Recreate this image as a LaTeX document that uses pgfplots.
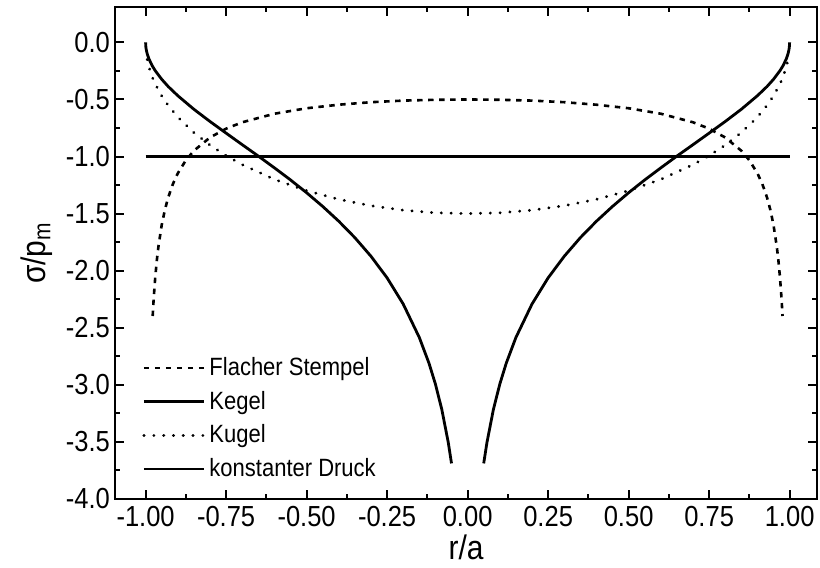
\documentclass[border=0pt]{standalone}
\usepackage{fontspec}
\setmainfont{Liberation Sans}[FakeStretch=0.88]
\usepackage{pgfplots}
\pgfplotsset{compat=1.18}
\begin{document}
\begin{tikzpicture}
\begin{axis}[
  scale only axis, width=351pt, height=246pt,
  xmin=-1.095, xmax=1.085, ymin=-4.0, ymax=0.31,
  xtick={-1,-0.75,-0.5,-0.25,0,0.25,0.5,0.75,1},
  ytick={-4,-3.5,-3,-2.5,-2,-1.5,-1,-0.5,0},
  minor x tick num=1, minor y tick num=1,
  major tick length=4.5pt, minor tick length=2.5pt,
  axis line style={line width=1.2pt},
  every tick/.style={black, line width=1pt},
  tick label style={font=\fontsize{14.5}{15}\selectfont},
  xticklabel style={/pgf/number format/.cd, fixed, fixed zerofill, precision=2, assume math mode=true},
  yticklabel style={xshift=1pt, /pgf/number format/.cd, fixed, fixed zerofill, precision=1, assume math mode=true},
  xlabel={r/a}, ylabel={σ/p\textsubscript{m}},
  label style={font=\fontsize{17}{18}\selectfont},
  xlabel style={yshift=2.5pt},
  unbounded coords=jump,
  legend cell align=left,
  legend style={draw=none, fill=none, at={(0.03,0.305)}, anchor=north west,
    font=\fontsize{12.5}{13}\selectfont, row sep=2.3pt},
  legend image code/.code={\draw[#1] (0pt,0pt) -- (30pt,0pt);},
]
\addplot[black, line width=1.3pt, dash pattern=on 2.7pt off 2.8pt] coordinates {
(-0.978,-2.397) (-0.975,-2.250) (-0.97,-2.057) (-0.965,-1.907) (-0.96,-1.786) (-0.95,-1.601) (-0.94,-1.466) (-0.93,-1.360) (-0.915,-1.239) (-0.9,-1.147) (-0.875,-1.033) (-0.85,-0.949) (-0.8,-0.833) (-0.75,-0.756) (-0.7,-0.700) (-0.6,-0.625) (-0.5,-0.577) (-0.4,-0.546) (-0.3,-0.524) (-0.2,-0.510) (-0.1,-0.503) (0,-0.500)
(0.1,-0.503) (0.2,-0.510) (0.3,-0.524) (0.4,-0.546) (0.5,-0.577) (0.6,-0.625) (0.7,-0.700) (0.75,-0.756) (0.8,-0.833) (0.85,-0.949) (0.875,-1.033) (0.9,-1.147) (0.915,-1.239) (0.93,-1.360) (0.94,-1.466) (0.95,-1.601) (0.96,-1.786) (0.965,-1.907) (0.97,-2.057) (0.975,-2.250) (0.978,-2.397)
};
\addlegendentry{Flacher Stempel}
\addplot[black, line width=1.4pt] coordinates {
(-1,0) (-0.999,-0.045) (-0.998,-0.063) (-0.995,-0.100) (-0.99,-0.142) (-0.98,-0.202) (-0.97,-0.248) (-0.95,-0.323) (-0.93,-0.386) (-0.9,-0.467) (-0.85,-0.586) (-0.8,-0.693) (-0.75,-0.795) (-0.7,-0.896) (-0.65,-0.996) (-0.6,-1.099) (-0.55,-1.205) (-0.5,-1.317) (-0.45,-1.437) (-0.4,-1.567) (-0.35,-1.711) (-0.3,-1.874) (-0.25,-2.063) (-0.2,-2.292) (-0.15,-2.585) (-0.12,-2.810) (-0.1,-2.993) (-0.08,-3.217) (-0.06,-3.506) (-0.05,-3.688)
(0,nan)
(0.05,-3.688) (0.06,-3.506) (0.08,-3.217) (0.1,-2.993) (0.12,-2.810) (0.15,-2.585) (0.2,-2.292) (0.25,-2.063) (0.3,-1.874) (0.35,-1.711) (0.4,-1.567) (0.45,-1.437) (0.5,-1.317) (0.55,-1.205) (0.6,-1.099) (0.65,-0.996) (0.7,-0.896) (0.75,-0.795) (0.8,-0.693) (0.85,-0.586) (0.9,-0.467) (0.93,-0.386) (0.95,-0.323) (0.97,-0.248) (0.98,-0.202) (0.99,-0.142) (0.995,-0.100) (0.998,-0.063) (0.999,-0.045) (1,0)
};
\addlegendentry{Kegel}
\addplot[black, line width=1.5pt, line cap=round, dash pattern=on 0.1pt off 4.8pt] coordinates {
(-0.995,-0.150) (-0.99,-0.212) (-0.98,-0.299) (-0.97,-0.365) (-0.95,-0.468) (-0.93,-0.551) (-0.9,-0.654) (-0.85,-0.790) (-0.8,-0.900) (-0.75,-0.992) (-0.7,-1.071) (-0.6,-1.200) (-0.5,-1.299) (-0.4,-1.375) (-0.3,-1.431) (-0.2,-1.470) (-0.1,-1.493) (0,-1.500)
(0.1,-1.493) (0.2,-1.470) (0.3,-1.431) (0.4,-1.375) (0.5,-1.299) (0.6,-1.200) (0.7,-1.071) (0.75,-0.992) (0.8,-0.900) (0.85,-0.790) (0.9,-0.654) (0.93,-0.551) (0.95,-0.468) (0.97,-0.365) (0.98,-0.299) (0.99,-0.212) (0.995,-0.150)
};
\addlegendentry{Kugel}
\addplot[black, line width=1.3pt] coordinates {(-1,-1) (1,-1)};
\addlegendentry{konstanter Druck}
\end{axis}
\pgfresetboundingbox
\path ([shift={(-57.5pt,-34.5pt)}]current axis.south west) rectangle ([shift={(1.5pt,3.5pt)}]current axis.north east);
\end{tikzpicture}
\end{document}
